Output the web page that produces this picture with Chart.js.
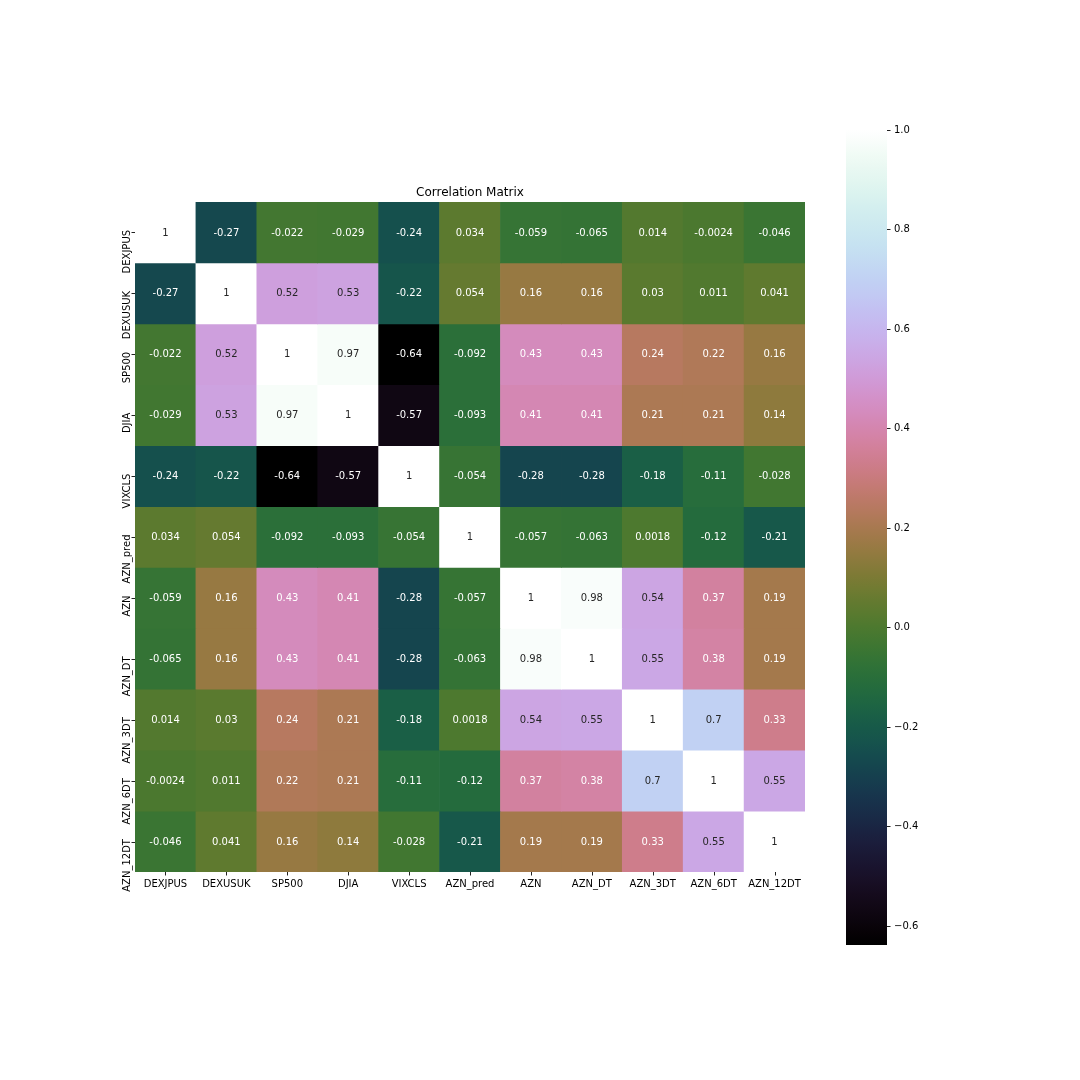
<!DOCTYPE html>
<html>
<head>
<meta charset="utf-8">
<script src="https://cdn.jsdelivr.net/npm/chart.js@4"></script>
<style>
html,body{margin:0;padding:0;background:#fff;}
#wrap{position:relative;width:1080px;height:1080px;overflow:hidden;background:#fff;}
#heat{position:absolute;left:0;top:0;}
#cbar{position:absolute;left:846px;top:0;}
</style>
</head>
<body>
<div id="wrap">
<canvas id="heat" width="1080" height="1080"></canvas>
<canvas id="cbar" width="130" height="1080"></canvas>
</div>
<script>
const labels = ["DEXJPUS","DEXUSUK","SP500","DJIA","VIXCLS","AZN_pred","AZN","AZN_DT","AZN_3DT","AZN_6DT","AZN_12DT"];
const rowDEXJPUS = [1, -0.27, -0.022, -0.029, -0.24, 0.034, -0.059, -0.065, 0.014, -0.0024, -0.046];
const rowDEXUSUK = [-0.27, 1, 0.52, 0.53, -0.22, 0.054, 0.16, 0.16, 0.03, 0.011, 0.041];
const rowSP500   = [-0.022, 0.52, 1, 0.97, -0.64, -0.092, 0.43, 0.43, 0.24, 0.22, 0.16];
const rowDJIA    = [-0.029, 0.53, 0.97, 1, -0.57, -0.093, 0.41, 0.41, 0.21, 0.21, 0.14];
const rowVIXCLS  = [-0.24, -0.22, -0.64, -0.57, 1, -0.054, -0.28, -0.28, -0.18, -0.11, -0.028];
const rowAZNpred = [0.034, 0.054, -0.092, -0.093, -0.054, 1, -0.057, -0.063, 0.0018, -0.12, -0.21];
const rowAZN     = [-0.059, 0.16, 0.43, 0.41, -0.28, -0.057, 1, 0.98, 0.54, 0.37, 0.19];
const rowAZNDT   = [-0.065, 0.16, 0.43, 0.41, -0.28, -0.063, 0.98, 1, 0.55, 0.38, 0.19];
const rowAZN3DT  = [0.014, 0.03, 0.24, 0.21, -0.18, 0.0018, 0.54, 0.55, 1, 0.7, 0.33];
const rowAZN6DT  = [-0.0024, 0.011, 0.22, 0.21, -0.11, -0.12, 0.37, 0.38, 0.7, 1, 0.55];
const rowAZN12DT = [-0.046, 0.041, 0.16, 0.14, -0.028, -0.21, 0.19, 0.19, 0.33, 0.55, 1];
const rows = [rowDEXJPUS,rowDEXUSUK,rowSP500,rowDJIA,rowVIXCLS,rowAZNpred,rowAZN,rowAZNDT,rowAZN3DT,rowAZN6DT,rowAZN12DT];
const colorbarTicks = [-0.6,-0.4,-0.2,0.0,0.2,0.4,0.6,0.8,1.0];
const vmin = -0.638, vmax = 1.0;
const title = "Correlation Matrix";
const FONT = "'DejaVu Sans', sans-serif";

// matplotlib cubehelix colormap (gamma=1, s=0.5, r=-1.5, h=1)
function cubehelix(x){
  x = Math.max(0, Math.min(1, x));
  const a = x*(1-x)/2;
  const phi = 2*Math.PI*(0.5/3 - 1.5*x);
  const c = Math.cos(phi), s = Math.sin(phi);
  const clip = v => Math.max(0, Math.min(1, v));
  return [clip(x + a*(-0.14861*c + 1.78277*s)),
          clip(x + a*(-0.29227*c - 0.90649*s)),
          clip(x + a*(1.97294*c))];
}
function colorFor(v){
  const rgb = cubehelix((v - vmin)/(vmax - vmin));
  return 'rgb(' + rgb.map(c => Math.round(c*255)).join(',') + ')';
}
function textColorFor(v){
  const rgb = cubehelix((v - vmin)/(vmax - vmin));
  const lin = rgb.map(c => c <= 0.03928 ? c/12.92 : Math.pow((c+0.055)/1.055, 2.4));
  const lum = 0.2126*lin[0] + 0.7152*lin[1] + 0.0722*lin[2];
  return lum > 0.408 ? '#262626' : '#ffffff';
}
function fmt(v){ return parseFloat(v.toPrecision(2)).toString(); }

const datasets = rows.map((r, i) => ({
  label: labels[i],
  data: r.map((v, j) => ({x: labels[j], y: 1, v: v})),
  backgroundColor: r.map(v => colorFor(v)),
  borderWidth: 0,
  barPercentage: 1.0,
  categoryPercentage: 1.0,
  stack: 's'
}));

const heatDecor = {
  id: 'heatDecor',
  afterDatasetsDraw(chart){
    const ctx = chart.ctx;
    const xs = chart.scales.x, ys = chart.scales.y;
    const area = chart.chartArea;
    ctx.save();
    // annotations
    ctx.font = '10px ' + FONT;
    ctx.textAlign = 'center';
    ctx.textBaseline = 'middle';
    chart.data.datasets.forEach((ds, i) => {
      const meta = chart.getDatasetMeta(i);
      meta.data.forEach((el, j) => {
        const v = ds.data[j].v;
        ctx.fillStyle = textColorFor(v);
        ctx.fillText(fmt(v), el.x, (el.y + el.base)/2 + 0.5);
      });
    });
    // ticks
    ctx.strokeStyle = '#222';
    ctx.lineWidth = 1;
    ctx.fillStyle = '#000';
    labels.forEach((lab, j) => {
      const px = Math.round(xs.getPixelForValue(j)) + 0.5;
      ctx.beginPath(); ctx.moveTo(px, area.bottom); ctx.lineTo(px, area.bottom + 3.5); ctx.stroke();
      ctx.textAlign = 'center'; ctx.textBaseline = 'top';
      ctx.fillText(lab, xs.getPixelForValue(j), area.bottom + 7);
    });
    labels.forEach((lab, i) => {
      const py = Math.round(ys.getPixelForValue(i + 0.5)) + 0.5;
      ctx.beginPath(); ctx.moveTo(area.left - 3.5, py); ctx.lineTo(area.left, py); ctx.stroke();
      ctx.save();
      ctx.translate(area.left - 5, ys.getPixelForValue(i + 0.5) - 2.5);
      ctx.rotate(-Math.PI/2);
      ctx.textAlign = 'right'; ctx.textBaseline = 'alphabetic';
      ctx.fillText(lab, 0, 0);
      ctx.restore();
    });
    // title
    ctx.font = '12px ' + FONT;
    ctx.textAlign = 'center'; ctx.textBaseline = 'alphabetic';
    ctx.fillText(title, (area.left + area.right)/2, area.top - 6);
    ctx.restore();
  }
};

new Chart(document.getElementById('heat'), {
  type: 'bar',
  data: { labels: labels, datasets: datasets },
  options: {
    responsive: false,
    animation: false,
    devicePixelRatio: 1,
    layout: { padding: { left: 135, right: 275, top: 202, bottom: 208 } },
    plugins: { legend: { display: false }, tooltip: { enabled: false }, title: { display: false } },
    scales: {
      x: { type: 'category', stacked: true, display: false, offset: true },
      y: { type: 'linear', stacked: true, display: false, min: 0, max: 11, reverse: true }
    }
  },
  plugins: [heatDecor]
});

// colorbar
function cbGradient(context){
  const chart = context.chart;
  const area = chart.chartArea;
  if (!area) return colorFor(0);
  const ys = chart.scales.y;
  const top = ys.getPixelForValue(vmax), bot = ys.getPixelForValue(vmin);
  const g = chart.ctx.createLinearGradient(0, bot, 0, top);
  const N = 64;
  for (let k = 0; k <= N; k++) {
    const v = vmin + (vmax - vmin)*k/N;
    g.addColorStop(k/N, colorFor(v));
  }
  return g;
}

new Chart(document.getElementById('cbar'), {
  type: 'bar',
  data: { labels: [''], datasets: [{ data: [[vmin, vmax]], backgroundColor: cbGradient, borderWidth: 0, barPercentage: 1.0, categoryPercentage: 1.0 }] },
  options: {
    responsive: false,
    animation: false,
    devicePixelRatio: 1,
    layout: { padding: { left: 0, right: 0, top: 130, bottom: 135 } },
    plugins: { legend: { display: false }, tooltip: { enabled: false } },
    scales: {
      x: { display: false, offset: true },
      y: {
        position: 'right',
        min: vmin, max: vmax,
        afterBuildTicks(scale){ scale.ticks = colorbarTicks.map(v => ({value: v})); },
        afterFit(scale){ scale.width = 89; },
        grid: { drawOnChartArea: false, drawTicks: true, tickLength: 3.5, color: '#222', lineWidth: 1 },
        border: { display: false },
        ticks: {
          padding: 3.5,
          color: '#000',
          font: { family: FONT, size: 10 },
          callback: (v) => (v < 0 ? '\u2212' : '') + Math.abs(v).toFixed(1)
        }
      }
    }
  }
});
</script>
</body>
</html>
